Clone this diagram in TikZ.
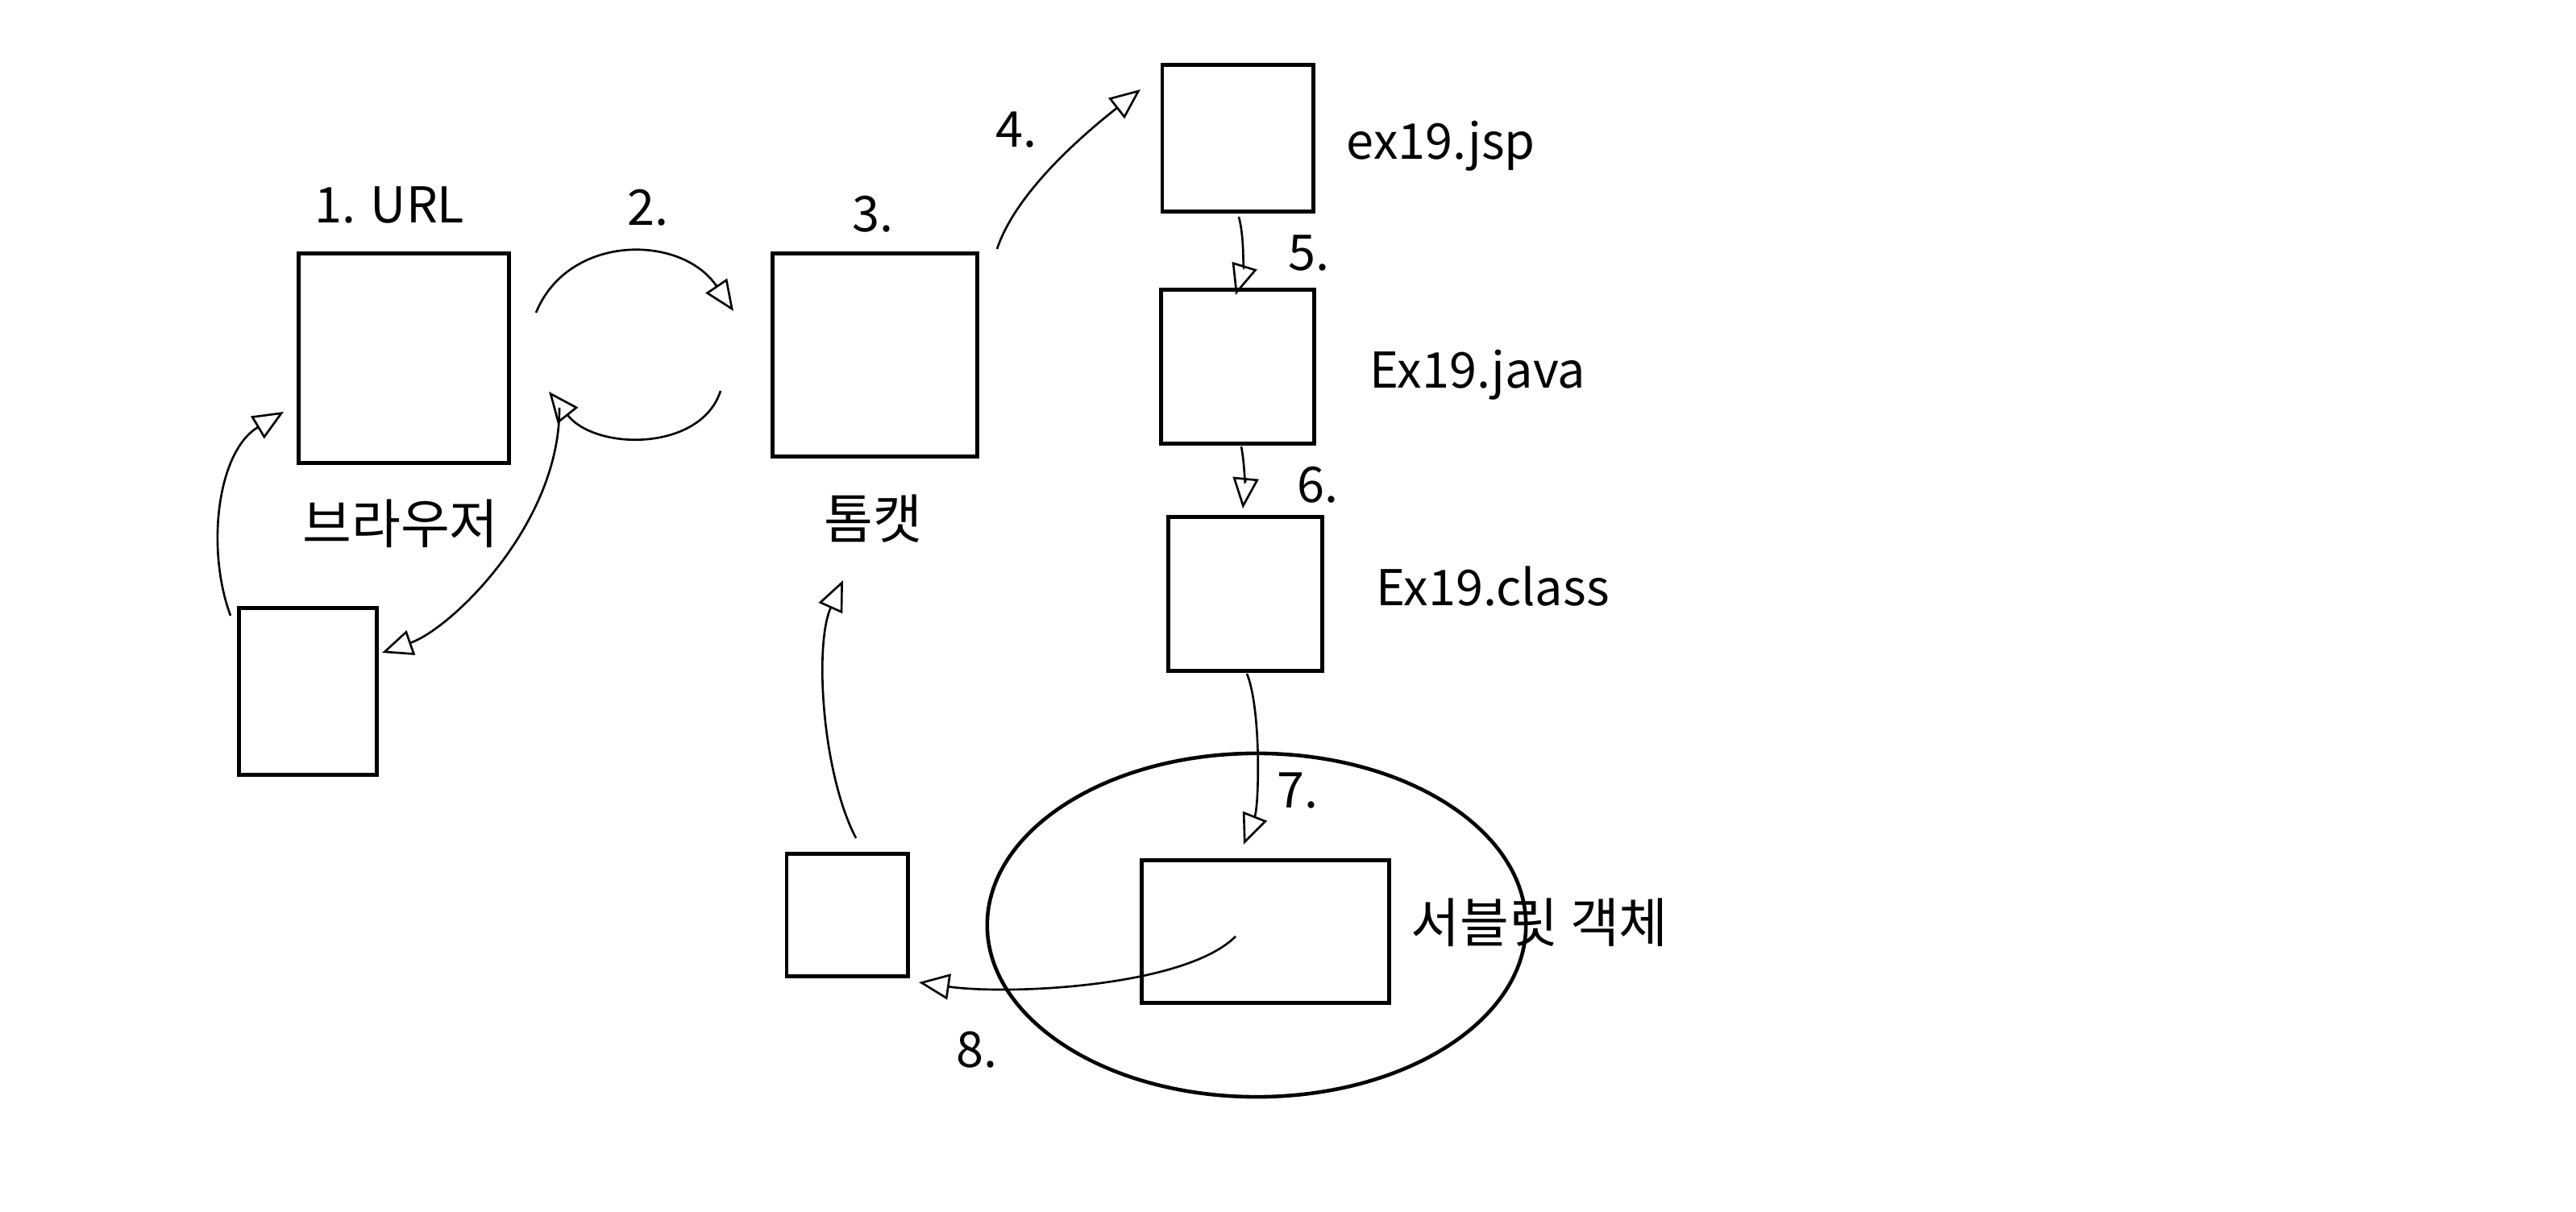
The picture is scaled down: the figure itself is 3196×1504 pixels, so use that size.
\documentclass[tikz,border=0pt]{standalone}
\usepackage{fontspec}
\setmainfont{Noto Sans CJK KR}
\usetikzlibrary{arrows.meta, shapes.geometric}
\tikzset{
  box/.style={draw, line width=1.4pt, inner sep=0pt, rectangle},
  lbl/.style={inner sep=0pt, font=\fontsize{17.4pt}{21pt}\selectfont},
  klbl/.style={inner sep=0pt, font=\fontsize{18.8pt}{22pt}\selectfont},
  hand/.style={line width=0.75pt, -{Triangle[open, length=0.38cm, width=0.32cm, line width=0.75pt]}},
}
\begin{document}
\begin{tikzpicture}[x=0.01cm, y=-0.01cm]
\useasboundingbox[fill=white] (0,0) rectangle (3196,1504);
% boxes
\node[box, minimum width=2.60cm, minimum height=2.59cm] (browser) at (501,444.5) {};
\node[box, minimum width=1.70cm, minimum height=2.06cm] (resp) at (382,858) {};
\node[box, minimum width=2.53cm, minimum height=2.51cm] (tomcat) at (1085.5,440.5) {};
\node[box, minimum width=1.87cm, minimum height=1.81cm] (jsp) at (1535.5,171.5) {};
\node[box, minimum width=1.89cm, minimum height=1.90cm] (java) at (1535.5,455) {};
\node[box, minimum width=1.90cm, minimum height=1.90cm] (class) at (1545,737) {};
\node[draw, ellipse, line width=1.3pt, inner sep=0pt, minimum width=6.68cm, minimum height=4.26cm] (ell) at (1559,1148) {};
\node[box, minimum width=3.06cm, minimum height=1.76cm] (servlet) at (1570,1156) {};
\node[box, minimum width=1.50cm, minimum height=1.51cm] (b8) at (1051,1135.5) {};
% labels
\node[lbl, anchor=base west] (t1) at (390,277) {1. URL};
\node[lbl, anchor=base west] (t2) at (778,280) {2.};
\node[lbl, anchor=base west] (t3) at (1057,288) {3.};
\node[lbl, anchor=base west] (t4) at (1235,183) {4.};
\node[lbl, anchor=base west] (t5) at (1598,336) {5.};
\node[lbl, anchor=base west] (t6) at (1609,624) {6.};
\node[lbl, anchor=base west] (t7) at (1584,1003) {7.};
\node[lbl, anchor=base west] (t8) at (1186,1324) {8.};
\node[klbl] (tb) at (497,650) {브라우저};
\node[klbl] (tt) at (1083,644) {톰캣};
\node[lbl, anchor=base west] (tjsp) at (1670,198) {ex19.jsp};
\node[lbl, anchor=base west] (tjava) at (1699,482) {Ex19.java};
\node[lbl, anchor=base west] (tclass) at (1707,752) {Ex19.class};
\node[klbl, anchor=west] (tserv) at (1750,1145) {서블릿 객체};
% connector end points
\coordinate (a2s) at (665,388);   \coordinate (a2e) at (910,386);
\coordinate (ars) at (894,485);   \coordinate (are) at (681,486);
\coordinate (ads) at (694,506);   \coordinate (ade) at (474,810);
\coordinate (aus) at (286,764);   \coordinate (aue) at (352,511);
\coordinate (a4s) at (1237,309);  \coordinate (a4e) at (1415,111);
\coordinate (a5s) at (1537,269);  \coordinate (a5e) at (1533,366);
\coordinate (a6s) at (1540,554);  \coordinate (a6e) at (1542,631);
\coordinate (a7s) at (1547,836);  \coordinate (a7e) at (1543,1048);
\coordinate (a8s) at (1533,1162); \coordinate (a8e) at (1140,1219);
\coordinate (a9s) at (1062,1040); \coordinate (a9e) at (1046,720);
% connectors
\draw[hand] (a2s) .. controls (705,290) and (845,290) .. (a2e);
\draw[hand] (ars) .. controls (870,560) and (740,560) .. (are);
\draw[hand] (ads) .. controls (695,650) and (560,780) .. (ade);
\draw[hand] (aus) .. controls (255,680) and (270,560) .. (aue);
\draw[hand] (a4s) .. controls (1260,240) and (1340,170) .. (a4e);
\draw[hand] (a5s) .. controls (1545,300) and (1541,340) .. (a5e);
\draw[hand] (a6s) .. controls (1545,580) and (1544,610) .. (a6e);
\draw[hand] (a7s) .. controls (1565,880) and (1562,1000) .. (a7e);
\draw[hand] (a8s) .. controls (1470,1225) and (1250,1235) .. (a8e);
\draw[hand] (a9s) .. controls (1020,960) and (1010,800) .. (a9e);
\end{tikzpicture}
\end{document}
